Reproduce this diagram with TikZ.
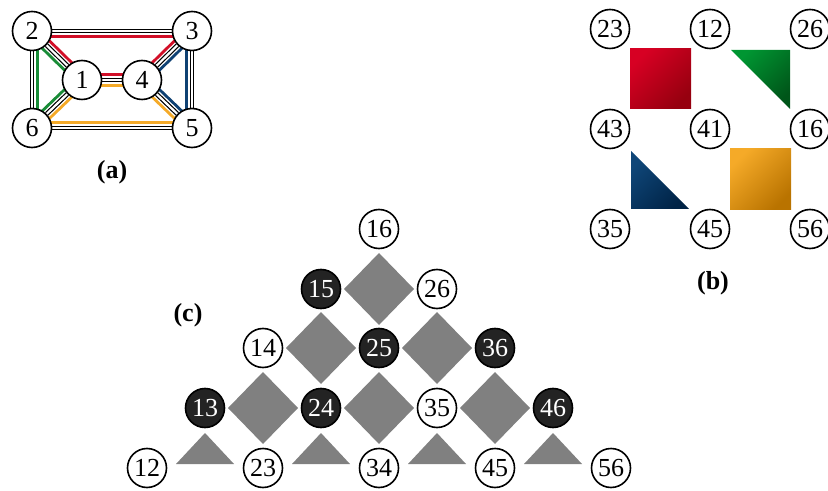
\documentclass[tikz,border=0pt]{standalone}
\usepackage{fontspec}
\setmainfont{Liberation Serif}
\usetikzlibrary{calc,backgrounds}
\definecolor{redpath}{RGB}{210,15,40}
\definecolor{greenpath}{RGB}{25,140,55}
\definecolor{bluepath}{RGB}{15,65,115}
\definecolor{orangepath}{RGB}{245,170,40}
\definecolor{redlight}{RGB}{215,0,35}
\definecolor{reddark}{RGB}{150,0,15}
\definecolor{greenlight}{RGB}{0,150,50}
\definecolor{greendark}{RGB}{0,85,25}
\definecolor{bluelight}{RGB}{15,70,120}
\definecolor{bluedark}{RGB}{0,35,70}
\definecolor{orangelight}{RGB}{245,170,40}
\definecolor{orangedark}{RGB}{185,115,0}
\definecolor{darkfill}{RGB}{35,35,35}
\definecolor{tilegray}{RGB}{128,128,128}

\begin{document}
\begin{tikzpicture}[x=0.5pt, y=-0.5pt,
    vtx/.style={circle, draw, line width=0.8pt, fill=white, minimum size=19.5pt,
      inner sep=0pt, font=\fontsize{13}{15}\selectfont},
    dvtx/.style={vtx, fill=darkfill, text=white},
    link/.style={double, double distance=1.1pt, line width=0.6pt},
    route/.style={line width=1.4pt},
    tile/.style={fill=tilegray},
    caption/.style={font=\fontsize{13}{15}\selectfont\bfseries}]
        \useasboundingbox (0,0) rectangle (828,491);
        % (a) graph
        \node[vtx] (a2) at (32,31) {2};
        \node[vtx] (a3) at (192,31) {3};
        \node[vtx] (a1) at (82,80) {1};
        \node[vtx] (a4) at (142,80) {4};
        \node[vtx] (a6) at (32,128) {6};
        \node[vtx] (a5) at (192,128) {5};
        \node[caption] (capa) at (112,172) {(a)};
        \begin{scope}[on background layer]
          % coloured cycles, shifted to the inside of each face
          \foreach \p/\q in {a2/a1,a1/a4,a4/a3,a3/a2}
            \draw[route, redpath] ($(\p)!2.6pt!90:(\q)$) -- ($(\q)!2.6pt!-90:(\p)$);
          \foreach \p/\q in {a2/a6,a6/a1,a1/a2}
            \draw[route, greenpath] ($(\p)!2.6pt!90:(\q)$) -- ($(\q)!2.6pt!-90:(\p)$);
          \foreach \p/\q in {a3/a4,a4/a5,a5/a3}
            \draw[route, bluepath] ($(\p)!2.6pt!90:(\q)$) -- ($(\q)!2.6pt!-90:(\p)$);
          \foreach \p/\q in {a6/a5,a5/a4,a4/a1,a1/a6}
            \draw[route, orangepath] ($(\p)!2.6pt!90:(\q)$) -- ($(\q)!2.6pt!-90:(\p)$);
          % edges
          \foreach \p/\q in {a2/a3,a2/a1,a2/a6,a3/a4,a3/a5,a1/a4,a1/a6,a4/a5,a6/a5}
            \draw[link] (\p) -- (\q);
        \end{scope}

        % (b) faces
        \node[vtx] (b23) at (610,29) {23};
        \node[vtx] (b12) at (710,29) {12};
        \node[vtx] (b26) at (810,29) {26};
        \node[vtx] (b43) at (610,129) {43};
        \node[vtx] (b41) at (710,129) {41};
        \node[vtx] (b16) at (810,129) {16};
        \node[vtx] (b35) at (610,229) {35};
        \node[vtx] (b45) at (710,229) {45};
        \node[vtx] (b56) at (810,229) {56};
        \shade[top color=redlight, bottom color=reddark, shading angle=45]
          (630,49) rectangle (691,109);
        \shade[top color=greenlight, bottom color=greendark, shading angle=45]
          (731,50) -- (790,50) -- (790,109) -- cycle;
        \shade[top color=bluelight, bottom color=bluedark, shading angle=45]
          (631,151) -- (631,209) -- (689,209) -- cycle;
        \shade[top color=orangelight, bottom color=orangedark, shading angle=45]
          (730,149) rectangle (791,210);
        \node[caption] (capb) at (713,283) {(b)};

        % (c) triangle of pairs
        \node[vtx] (c16) at (379,229) {16};
        \node[dvtx] (c15) at (321,289) {15};
        \node[vtx] (c26) at (437,289) {26};
        \node[vtx] (c14) at (263,348) {14};
        \node[dvtx] (c25) at (379,348) {25};
        \node[dvtx] (c36) at (495,348) {36};
        \node[dvtx] (c13) at (205,408) {13};
        \node[dvtx] (c24) at (321,408) {24};
        \node[vtx] (c35) at (437,408) {35};
        \node[dvtx] (c46) at (553,408) {46};
        \node[vtx] (c12) at (147,468) {12};
        \node[vtx] (c23) at (263,468) {23};
        \node[vtx] (c34) at (379,468) {34};
        \node[vtx] (c45) at (495,468) {45};
        \node[vtx] (c56) at (611,468) {56};
        \foreach \x/\y in {379/289,321/348,437/348,263/408,379/408,495/408}
          \fill[tile] (\x,\y) ++(0,-36) -- ++(35,36) -- ++(-35,36) -- ++(-35,-36) -- cycle;
        \foreach \x in {205,321,437,553}
          \fill[tile] (\x,433) -- ++(29,31) -- ++(-58,0) -- cycle;
        \node[caption] (capc) at (188,315) {(c)};
\end{tikzpicture}
\end{document}
